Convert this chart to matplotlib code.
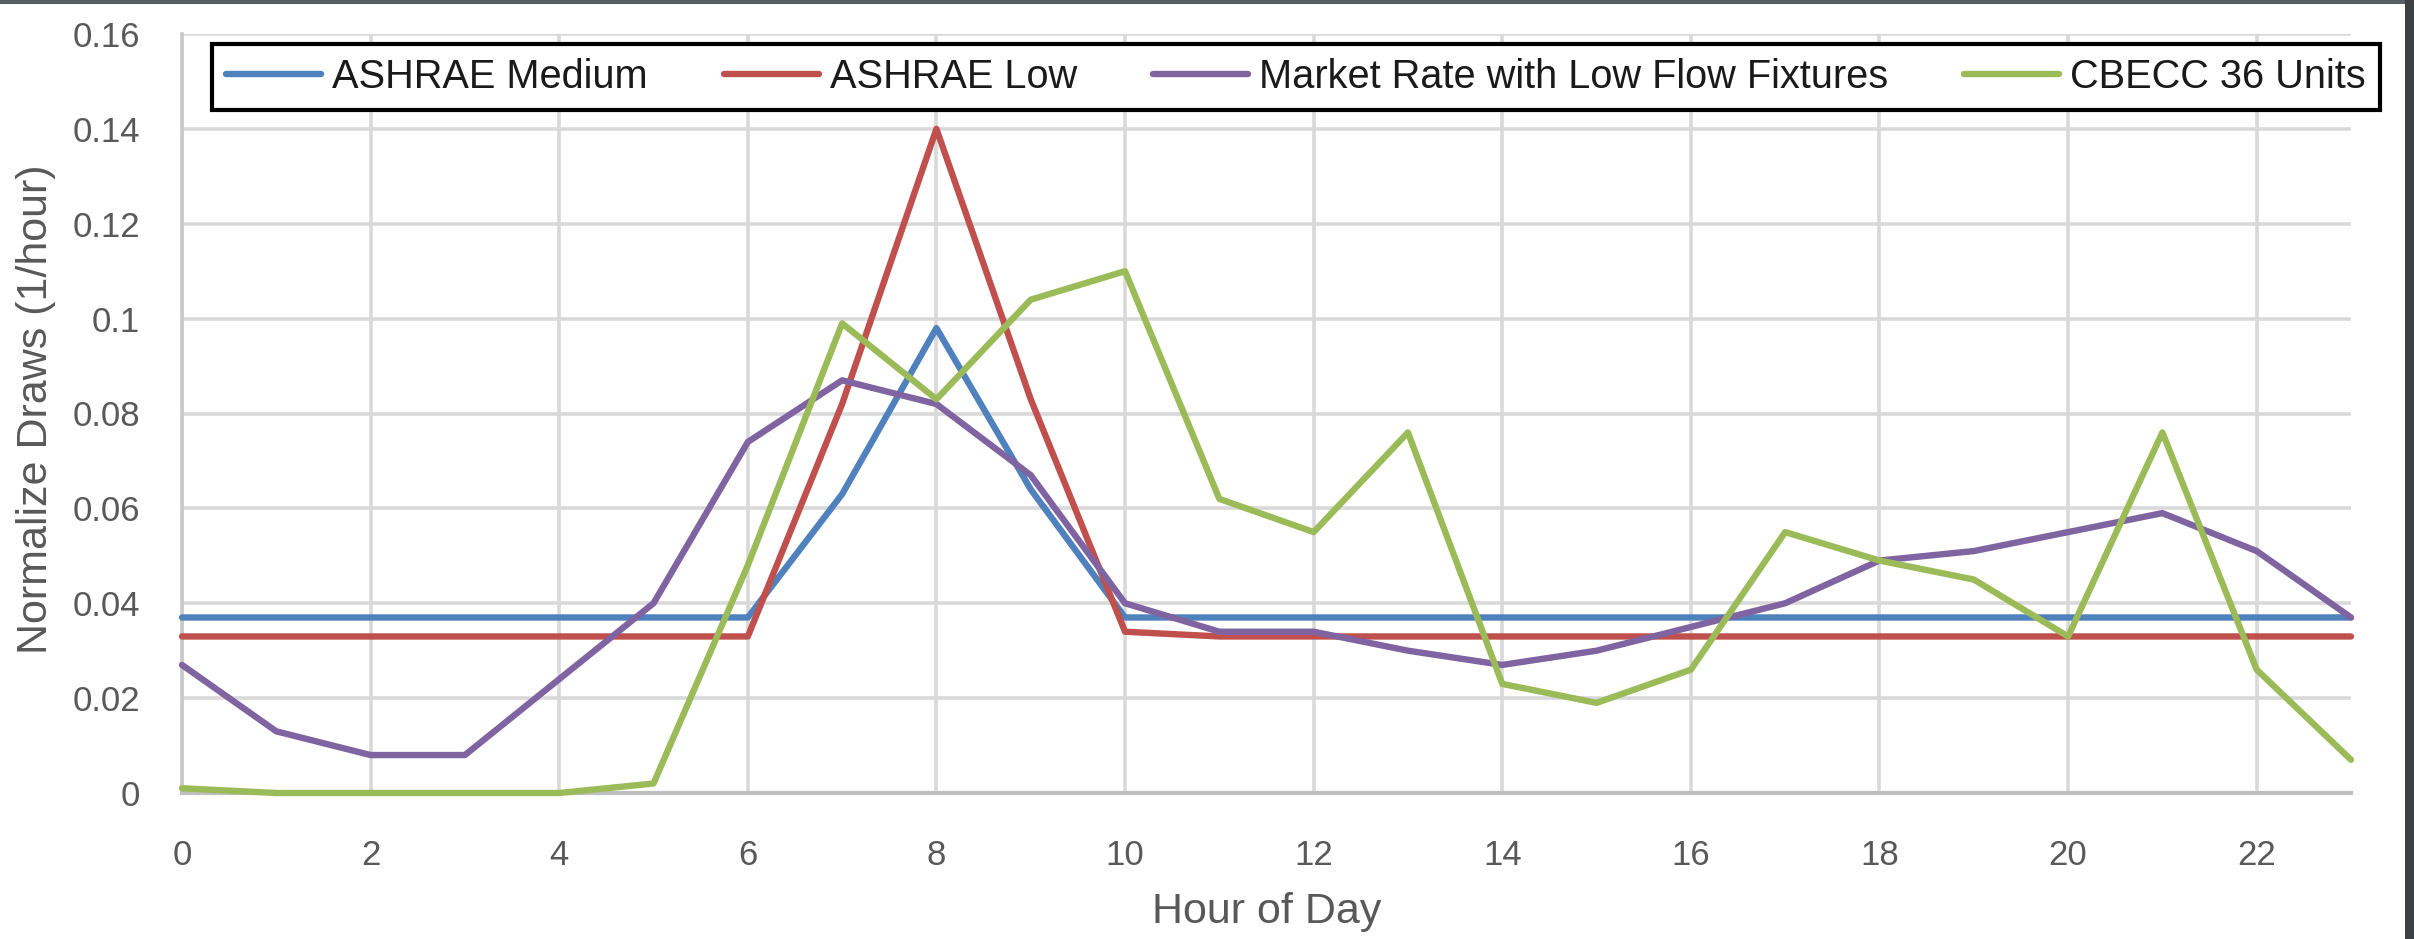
import matplotlib
matplotlib.use("Agg")
import matplotlib.pyplot as plt
from matplotlib.patches import Rectangle
from matplotlib.ticker import FuncFormatter, MultipleLocator

# Hourly normalized hot water draw profiles
hours = list(range(24))
ashrae_medium = [0.037, 0.037, 0.037, 0.037, 0.037, 0.037, 0.037, 0.063, 0.098, 0.064,
                 0.037, 0.037, 0.037, 0.037, 0.037, 0.037, 0.037, 0.037, 0.037, 0.037,
                 0.037, 0.037, 0.037, 0.037]
ashrae_low = [0.033, 0.033, 0.033, 0.033, 0.033, 0.033, 0.033, 0.082, 0.140, 0.083,
              0.034, 0.033, 0.033, 0.033, 0.033, 0.033, 0.033, 0.033, 0.033, 0.033,
              0.033, 0.033, 0.033, 0.033]
market_rate = [0.027, 0.013, 0.008, 0.008, 0.024, 0.040, 0.074, 0.087, 0.082, 0.067,
               0.040, 0.034, 0.034, 0.030, 0.027, 0.030, 0.035, 0.040, 0.049, 0.051,
               0.055, 0.059, 0.051, 0.037]
cbecc_36 = [0.001, 0.000, 0.000, 0.000, 0.000, 0.002, 0.048, 0.099, 0.083, 0.104,
            0.110, 0.062, 0.055, 0.076, 0.023, 0.019, 0.026, 0.055, 0.049, 0.045,
            0.033, 0.076, 0.026, 0.007]

series = [
    ("ASHRAE Medium", ashrae_medium, "#4f81bd"),
    ("ASHRAE Low", ashrae_low, "#c0504d"),
    ("Market Rate with Low Flow Fixtures", market_rate, "#8064a2"),
    ("CBECC 36 Units", cbecc_36, "#9bbb59"),
]

W, H = 2414, 939
plt.rcParams["font.family"] = ["Liberation Sans", "DejaVu Sans"]

fig = plt.figure(figsize=(W / 100, H / 100), dpi=100)
ax = fig.add_axes([182 / W, (H - 793) / H, (2351 - 182) / W, (793 - 34) / H])

for name, vals, color in series:
    ax.plot(hours, vals, color=color, linewidth=4.6, label=name,
            solid_joinstyle="round", solid_capstyle="round", clip_on=False, zorder=3)

ax.set_xlim(0, 23)
ax.set_ylim(0, 0.16)
ax.xaxis.set_major_locator(MultipleLocator(2))
ax.yaxis.set_major_locator(MultipleLocator(0.02))
ax.yaxis.set_major_formatter(FuncFormatter(lambda v, _: f"{v:g}"))

ax.grid(True, color="#d9d9d9", linewidth=2.6, zorder=0)
ax.set_axisbelow(True)
for side in ("top", "right"):
    ax.spines[side].set_visible(False)
ax.spines["left"].set_color("#c8c8c8")
ax.spines["left"].set_linewidth(2.6)
ax.spines["bottom"].set_color("#bfbfbf")
ax.spines["bottom"].set_linewidth(3.0)

ax.tick_params(axis="both", length=0, labelsize=25, labelcolor="#595959")
ax.tick_params(axis="y", pad=30)
ax.tick_params(axis="x", pad=33)

fig.text(0.5 * (182 + 2351) / W, (H - 923) / H, "Hour of Day", ha="center",
         va="baseline", fontsize=31, color="#595959")
fig.text(36 / W, (H - 409) / H, "Normalize Draws (1/hour)", rotation=90,
         ha="center", va="center", fontsize=31, color="#595959")

leg = ax.legend(loc="lower left", ncol=4, mode="expand", fontsize=28.6,
                bbox_to_anchor=(212 / W, (H - 110) / H, (2380 - 212) / W, 70 / H),
                bbox_transform=fig.transFigure, borderaxespad=0, fancybox=False,
                framealpha=1, edgecolor="black", handlelength=2.4,
                handletextpad=0.28, borderpad=0.35)
leg.get_frame().set_linewidth(3.0)
leg.set_zorder(5)
for t in leg.get_texts():
    t.set_color("#1a1a1a")

# dark window edges along the top and right
fig.patches.append(Rectangle((0, (H - 4) / H), 1, 4 / H, transform=fig.transFigure,
                             facecolor="#565f63", edgecolor="none"))
fig.patches.append(Rectangle((2405 / W, 0), 9 / W, 1, transform=fig.transFigure,
                             facecolor="#3c4043", edgecolor="none"))

fig.savefig("out.png", dpi=100)
